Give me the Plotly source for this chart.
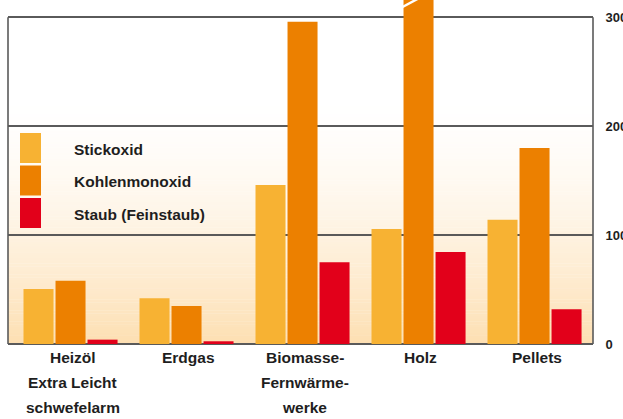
import plotly.graph_objects as go

# ---- data ----
categories = ["Heizöl", "Erdgas", "Biomasse-", "Holz", "Pellets"]
category_lines = [["Heizöl", "Extra Leicht", "schwefelarm"], ["Erdgas"],
                  ["Biomasse-", "Fernwärme-", "werke"], ["Holz"], ["Pellets"]]
series_names = ["Stickoxid", "Kohlenmonoxid", "Staub (Feinstaub)"]
stickoxid = [50.5, 42, 146, 105.5, 114]
kohlenmonoxid = [58, 35, 296, 340, 180]
staub = [4, 2.5, 75, 84.5, 32]
series_values = [stickoxid, kohlenmonoxid, staub]
series_colors = ["#F7B233", "#EC8000", "#E2001A"]
y_ticks = [0, 100, 200, 300]

W, H = 623, 419
ML, MR, MT, MB = 8, 30, 0, 75
PW = W - ML - MR
PH = H - MT - MB
Y_TOP = 315.9

FONT = "Liberation Sans, Arial, sans-serif"
TXT = "#1e1e1e"

fig = go.Figure()
for name, vals, col in zip(series_names, series_values, series_colors):
    fig.add_trace(go.Bar(x=categories, y=vals, name=name, marker_color=col,
                         marker_line_width=0, showlegend=False))

shapes = []
# gradient background (below gridlines)
n = 90
top_px, bot_px = 95.0, float(PH)
c_top = (255, 255, 255)
c_bot = (253, 223, 178)
for i in range(n):
    p0 = top_px + (bot_px - top_px) * i / n
    p1 = top_px + (bot_px - top_px) * (i + 1) / n
    t = ((i + 0.5) / n) ** 1.6
    c = tuple(round(c_top[k] + (c_bot[k] - c_top[k]) * t) for k in range(3))
    shapes.append(dict(type="rect", xref="paper", yref="paper", x0=0, x1=1,
                       y0=1 - p1 / PH, y1=1 - p0 / PH + 0.001, layer="below",
                       line_width=0, fillcolor="rgb(%d,%d,%d)" % c))
# box sides
for xp in (0, 1):
    shapes.append(dict(type="line", xref="paper", yref="y", x0=xp, x1=xp,
                       y0=0, y1=y_ticks[-1], line=dict(color="#5a5a5a", width=1.6),
                       layer="above"))
# axis break marker on the clipped bar
shapes.append(dict(type="line", xref="x", yref="paper", xsizemode="pixel",
                   ysizemode="pixel", xanchor="Holz", yanchor=1,
                   x0=-16, x1=-1, y0=-7, y1=1,
                   line=dict(color="white", width=2.5), layer="above"))


def py(px):
    return 1 - px / PH


def pxx(px):
    return (px - ML) / PW


annotations = []
# custom legend
leg_tops = [133, 165.5, 198]
for name, col, top in zip(series_names, series_colors, leg_tops):
    shapes.append(dict(type="rect", xref="paper", yref="paper",
                       x0=pxx(20), x1=pxx(41), y0=py(top + 30), y1=py(top),
                       fillcolor=col, line_width=0, layer="above"))
    annotations.append(dict(xref="paper", yref="paper", x=pxx(72), y=py(top + 16),
                            text="<b>%s</b>" % name, showarrow=False,
                            xanchor="left", yanchor="middle",
                            font=dict(family=FONT, size=15.5, color=TXT)))

# category labels (one annotation per line, for the wide line spacing)
for cat, lines in zip(categories, category_lines):
    for i, ln in enumerate(lines):
        annotations.append(dict(xref="x", yref="paper", x=cat, y=py(357 + 25 * i),
                                text="<b>%s</b>" % ln, showarrow=False,
                                xanchor="center", yanchor="middle", xshift=2,
                                font=dict(family=FONT, size=15.5, color=TXT)))

fig.update_layout(
    width=W, height=H,
    margin=dict(l=ML, r=MR, t=MT, b=MB, pad=0),
    paper_bgcolor="white", plot_bgcolor="white",
    barmode="group", bargap=0.172, bargroupgap=0.0625,
    shapes=shapes, annotations=annotations,
    showlegend=False,
    xaxis=dict(range=[-0.539, 4.504], showticklabels=False, showline=False,
               showgrid=False, ticks="", automargin=False, fixedrange=True),
    yaxis=dict(range=[0, Y_TOP], tickvals=y_ticks,
               ticktext=["<b>%d</b>" % v for v in y_ticks],
               side="right", showgrid=True, gridcolor="#5a5a5a", gridwidth=1.6,
               zeroline=True, zerolinecolor="#5a5a5a", zerolinewidth=1.6,
               showline=False, ticks="outside", ticklen=9, tickcolor="rgba(0,0,0,0)",
               tickfont=dict(family=FONT, size=13, color=TXT),
               automargin=False, fixedrange=True),
)

fig.write_html("out.html", config={"displayModeBar": False},
               post_script="document.body.style.margin='0';document.body.style.padding='0';")
